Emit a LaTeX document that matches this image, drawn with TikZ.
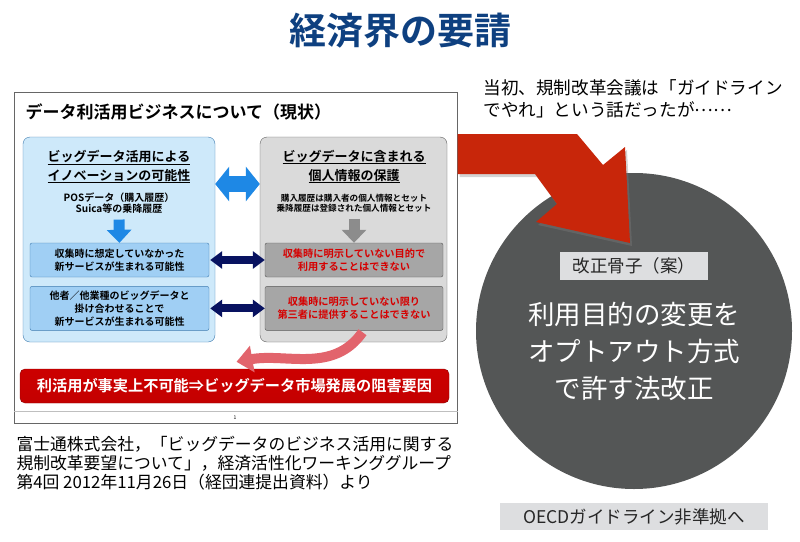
\documentclass[tikz,border=0pt]{standalone}
\usepackage{fontspec}
\setmainfont{Noto Sans CJK JP}[BoldFont={Noto Sans CJK JP Bold}]
\usepackage{tikz}
\usetikzlibrary{arrows.meta, positioning, calc, shadows}
\definecolor{titleblue}{RGB}{14,64,128}
\definecolor{lightblue}{RGB}{206,233,250}
\definecolor{midblue}{RGB}{160,207,244}
\definecolor{edgeblue}{RGB}{64,124,176}
\definecolor{arrblue}{RGB}{30,136,229}
\definecolor{navyarr}{RGB}{8,18,96}
\definecolor{panelgrey}{RGB}{218,218,218}
\definecolor{subgrey}{RGB}{166,166,166}
\definecolor{alertred}{RGB}{214,0,0}
\definecolor{bannerred}{RGB}{196,0,0}
\definecolor{bigred}{RGB}{200,38,10}
\definecolor{pinkred}{RGB}{226,100,108}
\definecolor{circgrey}{RGB}{84,86,86}
\definecolor{tagbg}{RGB}{221,222,224}
\tikzstyle{shot}     = [rectangle, draw=gray!80!black, line width=1pt, fill=white,
                        inner sep=0pt]
\tikzstyle{lpanel}   = [rectangle, rounded corners=7pt, minimum width=192pt,
                        minimum height=205pt, draw=edgeblue, fill=lightblue, inner sep=0pt]
\tikzstyle{rpanel}   = [rectangle, rounded corners=7pt, minimum width=187pt,
                        minimum height=205pt, draw=gray!75!black, fill=panelgrey, inner sep=0pt]
\tikzstyle{ptitle}   = [align=center, font=\fontsize{13}{19}\selectfont\bfseries]
\tikzstyle{pnote}    = [align=center, font=\fontsize{9.6}{10.5}\selectfont\bfseries]
\tikzstyle{lsub}     = [rectangle, rounded corners=2pt, minimum width=179pt,
                        minimum height=34pt, align=center, draw=edgeblue, fill=midblue,
                        inner sep=0pt, font=\fontsize{10}{13}\selectfont\bfseries]
\tikzstyle{rsub}     = [rectangle, rounded corners=2pt, minimum width=178pt,
                        minimum height=34pt, align=center, draw=gray!70!black, fill=subgrey,
                        inner sep=0pt, text=alertred, font=\fontsize{10.2}{13}\selectfont\bfseries]
\tikzstyle{tagbox}   = [rectangle, fill=tagbg, inner sep=0pt, text=black!85,
                        font=\fontsize{17.5}{20}\selectfont]
\tikzstyle{downarr}  = [line width=11pt, -{Triangle[length=13pt,width=24pt]}]
\tikzstyle{duoarr}   = [line width=8pt, navyarr, {Triangle[length=12pt,width=17pt]}-{Triangle[length=12pt,width=17pt]}]
\begin{document}
\begin{tikzpicture}[x=1pt, y=-1pt, node distance=9pt and 9pt]
  \useasboundingbox (0,0) rectangle (800,541);
  \node[font=\fontsize{37}{40}\selectfont\bfseries, text=titleblue] (title) at (400,31) {経済界の要請};

  % slide screenshot
  \node[shot, minimum width=443pt, minimum height=331pt] (frame) at (235.5,257.5) {};
  \draw[gray!50] ([yshift=-320pt]frame.north west) -- ([yshift=-320pt]frame.north east);
  \node[font=\fontsize{5}{6}\selectfont] (pnum) at (235,418) {1};
  \node[anchor=west, font=\fontsize{17}{20}\selectfont\bfseries] (head) at (22,112) {データ利活用ビジネスについて（現状）};

  \node[lpanel] (lpanel) at (119,239.5) {};
  \node[rpanel] (rpanel) at (353.5,239.5) {};

  \node[ptitle] (ltitle) at (119,166.5) {\underline{ビッグデータ活用による}\\\underline{イノベーションの可能性}};
  \node[pnote, font=\fontsize{10}{10.5}\selectfont\bfseries] (lnote) at (119,203) {POSデータ（購入履歴）\\Suica等の乗降履歴};
  \node[lsub] (lb1) at (119.5,260) {収集時に想定していなかった\\新サービスが生まれる可能性};
  \node[lsub, minimum height=44pt, below=9pt of lb1] (lb2) {他者／他業種のビッグデータと\\掛け合わせることで\\新サービスが生まれる可能性};

  \node[ptitle] (rtitle) at (354,166.5) {\underline{ビッグデータに含まれる}\\\underline{個人情報の保護}};
  \node[pnote, font=\fontsize{8.6}{10.5}\selectfont\bfseries] (rnote) at (354,203) {購入履歴は購入者の個人情報とセット\\乗降履歴は登録された個人情報とセット};
  \node[rsub] (rb1) at (354,260) {収集時に明示していない目的で\\利用することはできない};
  \node[rsub, minimum height=44pt, below=9pt of rb1] (rb2) {収集時に明示していない限り\\第三者に提供することはできない};

  \draw[downarr, arrblue] ([yshift=-3pt]lnote.south) -- (lb1.north);
  \draw[downarr, gray!90] ([yshift=-3pt]rnote.south) -- (rb1.north);

  \draw[line width=16pt, arrblue, {Triangle[length=14pt,width=34pt]}-{Triangle[length=14pt,width=34pt]}]
    ([yshift=55.5pt]lpanel.east) -- ([yshift=55.5pt]rpanel.west);
  \draw[duoarr] ([xshift=1pt]lb1.east) -- (rb1.west);
  \draw[duoarr] ([xshift=1pt]lb2.east) -- (rb2.west);

  \node[rectangle, rounded corners=5pt, minimum width=429pt, minimum height=34pt,
        draw=bannerred!70!black, top color=red!80!black, bottom color=bannerred,
        text=white, font=\fontsize{15.2}{18}\selectfont\bfseries] (banner) at (234.5,386)
        {利活用が事実上不可能⇒ビッグデータ市場発展の阻害要因};
  \draw[line width=10pt, pinkred, -{Triangle[length=16pt,width=26pt]}]
    ([xshift=9pt,yshift=10pt]rpanel.south) to[out=-125,in=10] ([xshift=2pt,yshift=7pt]banner.north);

  \node[anchor=west, align=left, font=\fontsize{16.8}{19}\selectfont] (source) at (13,463)
    {富士通株式会社，「ビッグデータのビジネス活用に関する\\規制改革要望について」，経済活性化ワーキンググループ\\第4回 2012年11月26日（経団連提出資料）より};

  % proposal side
  \node[anchor=west, align=left, font=\fontsize{17.6}{22}\selectfont] (remark) at (480,99)
    {当初、規制改革会議は「ガイドライン\\でやれ」という話だったが\raisebox{.32em}{……}};
  \node[circle, fill=circgrey, minimum size=316pt, inner sep=0pt] (circ) at (634,331) {};
  \fill[bigred, drop shadow={opacity=0.35, shadow xshift=2pt, shadow yshift=-3pt}]
    (frame.east |- 0,134) -- (577,134) -- (603,165) -- (625,147) -- (630,243)
    -- (536,222) -- (557,204) -- (535,174) -- (frame.east |- 0,174) -- cycle;
  \node[tagbox, minimum width=148pt, minimum height=28pt] (tag) at (634,266) {改正骨子（案）};
  \node[align=center, text=white, font=\fontsize{26.5}{37}\selectfont] (change) at (634,351)
    {利用目的の変更を\\オプトアウト方式\\で許す法改正};
  \node[tagbox, minimum width=268pt, minimum height=27pt] (oecd) at (634,516.5) {OECDガイドライン非準拠へ};
\end{tikzpicture}
\end{document}
